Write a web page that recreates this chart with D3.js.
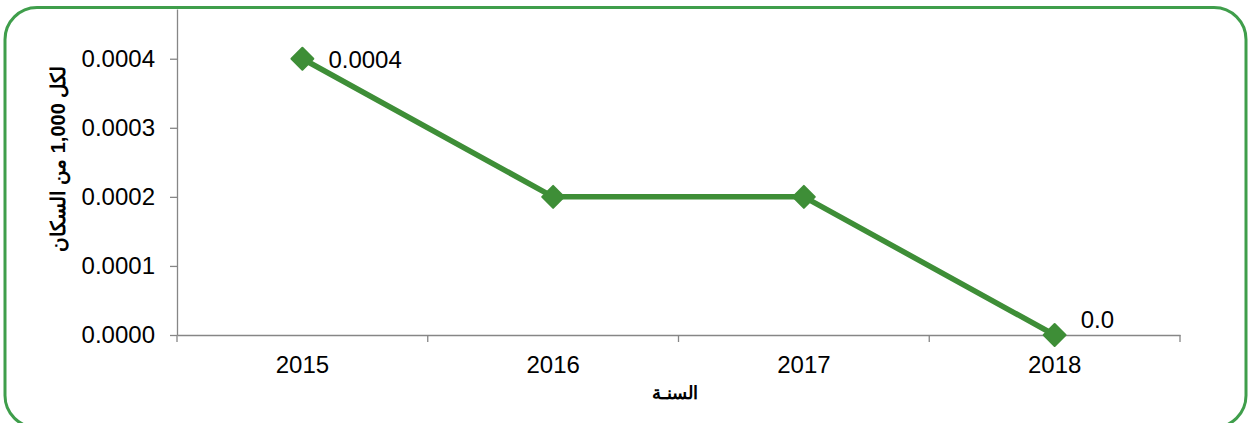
<!DOCTYPE html>
<html>
<head>
<meta charset="utf-8">
<script src="https://cdn.jsdelivr.net/npm/d3@7"></script>
<style>
  body { margin: 0; background: #fff; }
  svg { display: block; font-family: Arial, "Liberation Sans", sans-serif; }
  .axis path, .axis line { stroke: #868686; stroke-width: 1.3; }
  .axis text { fill: #000; font-size: 24px; }
</style>
</head>
<body>
<svg width="1248" height="423"></svg>
<script>
const years = ["2015", "2016", "2017", "2018"];
const rates = [0.0004, 0.0002, 0.0002, 0.0];
const pointLabels = ["0.0004", "", "", "0.0"];
const yTicks = [0, 0.0001, 0.0002, 0.0003, 0.0004];
const xTitle = "السنـة";
const yTitle = "لكل 1,000 من السكان";

const green = "#3e8e37";

var svg = d3.select("svg"),
    width = +svg.attr("width"),
    height = +svg.attr("height");

// frame
svg.append("rect")
    .attr("x", 5)
    .attr("y", 7.5)
    .attr("width", 1241)
    .attr("height", 420)
    .attr("rx", 32)
    .attr("fill", "none")
    .attr("stroke", "#3f9e4b")
    .attr("stroke-width", 3);

var x = d3.scaleBand()
    .domain(years)
    .range([177, 1180])
    .padding(0);

var y = d3.scaleLinear()
    .domain([0, 0.000472])
    .range([335, 9]);

// y axis
var gY = svg.append("g")
    .attr("class", "axis")
    .attr("transform", "translate(177,0)")
    .call(d3.axisLeft(y)
        .tickValues(yTicks)
        .tickFormat(d3.format(".4f"))
        .tickSize(7)
        .tickSizeOuter(0)
        .tickPadding(15));

// x axis
var gX = svg.append("g")
    .attr("class", "axis")
    .attr("transform", "translate(0,335)")
    .call(d3.axisBottom(x)
        .tickSize(0)
        .tickSizeOuter(0)
        .tickPadding(21));

// category boundary ticks
var edges = years.map(d => x(d)).concat([x(years[years.length - 1]) + x.bandwidth()]);
gX.selectAll("line.edge")
    .data(edges)
    .enter().append("line")
    .attr("class", "edge")
    .attr("x1", d => d).attr("x2", d => d)
    .attr("y1", 0).attr("y2", 7);

// titles
svg.append("text")
    .attr("x", 675)
    .attr("y", 399)
    .attr("text-anchor", "middle")
    .attr("font-weight", "bold")
    .attr("font-size", 18)
    .attr("direction", "rtl")
    .text(xTitle);

svg.append("text")
    .attr("transform", "translate(65,159) rotate(-90)")
    .attr("text-anchor", "middle")
    .attr("font-weight", "bold")
    .attr("font-size", 20)
    .attr("direction", "rtl")
    .text(yTitle);

var pts = years.map((d, i) => ({ year: d, value: rates[i], label: pointLabels[i] }));

var line = d3.line()
    .x(d => x(d.year) + x.bandwidth() / 2)
    .y(d => y(d.value));

svg.append("path")
    .datum(pts)
    .attr("fill", "none")
    .attr("stroke", green)
    .attr("stroke-width", 5.5)
    .attr("stroke-linejoin", "round")
    .attr("d", line);

svg.selectAll("path.marker")
    .data(pts)
    .enter().append("path")
    .attr("class", "marker")
    .attr("transform", d => `translate(${x(d.year) + x.bandwidth() / 2},${y(d.value)}) rotate(45)`)
    .attr("d", d3.symbol(d3.symbolSquare, 240))
    .attr("fill", green)
    .attr("stroke", green)
    .attr("stroke-width", 2)
    .attr("stroke-linejoin", "round");

svg.selectAll("text.plabel")
    .data(pts.filter(d => d.label))
    .enter().append("text")
    .attr("class", "plabel")
    .attr("x", d => x(d.year) + x.bandwidth() / 2 + 26)
    .attr("y", d => y(d.value) + (d.value > 0 ? 9 : -7))
    .attr("font-size", 24)
    .text(d => d.label);
</script>
</body>
</html>
